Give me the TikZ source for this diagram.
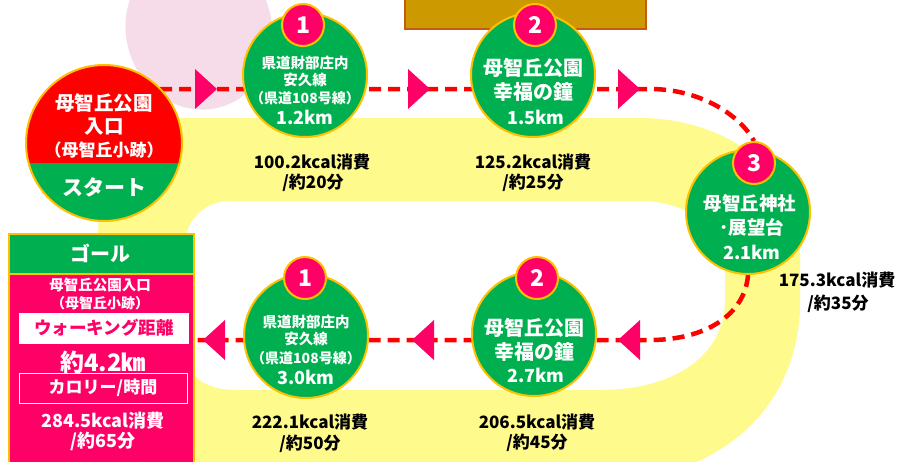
\documentclass[tikz,border=0pt]{standalone}
\usepackage{fontspec}
\setmainfont{Noto Sans CJK JP}
\usetikzlibrary{calc}
\definecolor{grn}{RGB}{0,176,80}
\definecolor{gold}{RGB}{255,192,0}
\definecolor{mag}{RGB}{255,0,102}
\definecolor{rte}{RGB}{255,0,0}
\definecolor{ylw}{RGB}{255,250,140}
\definecolor{pblob}{RGB}{246,220,233}
\definecolor{brn}{RGB}{204,153,0}
\definecolor{brnb}{RGB}{197,90,17}
\newcommand\fsz[1]{\fontsize{#1}{#1}\selectfont}
\pgfdeclarelayer{back}
\pgfdeclarelayer{mid}
\pgfsetlayers{back,mid,main}
\begin{document}
\begin{tikzpicture}[x=1pt,y=-1pt,
  stn/.style={circle, fill=grn, draw=gold, line width=2, minimum size=124, inner sep=0},
  badge/.style={circle, fill=mag, draw=gold, line width=2, minimum size=42, inner sep=0, text=white, font=\bfseries\fsz{23}},
  wt/.style={text=white, inner sep=0, font=\bfseries},
  bk/.style={text=black, inner sep=0, font=\bfseries},
  route/.style={draw=rte, line width=4.5, dash pattern=on 12 off 7},
  tri/.style={fill=mag}]
\useasboundingbox (0,0) rectangle (899,461);

% background layer: blob, ring, box
\begin{pgfonlayer}{back}
\fill[white] (0,0) rectangle (899,461);
\fill[pblob, rotate around={15:(199,30)}] (199,30) ellipse (73 and 80);
\fill[ylw, even odd rule]
 (185,118) -- (640,118) .. controls (720,118) and (800,165) .. (800,255) -- (800,310)
   .. controls (796,390) and (748,448) .. (670,472) -- (100,472) -- (98,235)
   .. controls (100,165) and (130,118) .. (185,118) -- cycle
 (230,201) -- (640,201) .. controls (690,201) and (725,230) .. (725,275) -- (725,300)
   .. controls (725,355) and (675,390) .. (600,390) -- (235,390)
   .. controls (205,390) and (185,375) .. (185,350) -- (185,245)
   .. controls (185,220) and (205,201) .. (230,201) -- cycle;
\fill[brn] (405,-3) rectangle (646,29);
\draw[brnb, line width=1.5] (405,-3) rectangle (646,29);
\end{pgfonlayer}

% start circle
\begin{scope}
\clip (104,143) circle (78);
\fill[rte] (20,60) rectangle (190,163);
\fill[grn] (20,163) rectangle (190,230);
\end{scope}
\node[circle, draw=gold, line width=2, minimum size=156, inner sep=0] (start) at (104,143) {};
\node[wt, font=\bfseries\fsz{19.5}] (s1) at (104,103) {母智丘公園};
\node[wt, font=\bfseries\fsz{19.5}] (s2) at (104,127) {入口};
\node[wt, font=\bfseries\fsz{17}] (s3) at (104,150) {（母智丘小跡）};
\node[wt, font=\bfseries\fsz{21}] (s4) at (104,187) {スタート};

% goal box
\node[draw=gold, line width=1.5, fill=grn, minimum width=185, minimum height=40, inner sep=0, anchor=north west] (goalh) at (8,233) {};
\node[draw=gold, line width=1.5, fill=mag, minimum width=185, minimum height=200, inner sep=0, anchor=north west] (goal) at (8,273) {};
\node[fill=white, minimum width=170, minimum height=31, inner sep=0, anchor=north west] (wbox) at (19,313) {};
\node[draw=white, line width=1, minimum width=168, minimum height=30, inner sep=0, anchor=north west] (obox) at (19,373) {};
\node[wt, font=\bfseries\fsz{20}] (g0) at (100,253) {ゴール};
\node[wt, font=\bfseries\fsz{14.5}] (g1) at (100,285) {母智丘公園入口};
\node[wt, font=\bfseries\fsz{14}] (g2) at (100,303) {（母智丘小跡）};
\node[text=mag, inner sep=0, font=\bfseries\fsz{17.5}] (g3) at (104,328) {ウォーキング距離};
\node[wt, font=\bfseries\fsz{24}] (g4) at (103,362) {約4.2㎞};
\node[wt, font=\bfseries\fsz{17}] (g5) at (103,388) {カロリー/時間};
\node[wt, font=\bfseries\fsz{18}] (g6) at (103,421) {284.5kcal消費};
\node[wt, font=\bfseries\fsz{18}] (g7) at (103,441) {/約65分};

% stations
\node[stn] (c1) at (305,75) {};
\node[badge] (b1) at (303,25) {1};
\node[stn] (c2) at (533,75) {};
\node[badge] (b2) at (535,25) {2};
\node[stn] (c3) at (748,212) {};
\node[badge] (b3) at (754,163) {3};
\node[stn] (d1) at (306,336) {};
\node[badge] (e1) at (305,278) {1};
\node[stn] (d2) at (534,334) {};
\node[badge] (e2) at (537,278) {2};

% route
\coordinate (r0) at (160,89);
\coordinate (r1) at (650,89);
\coordinate (r2) at (650,340);
\begin{pgfonlayer}{mid}
\draw[route] (r0) -- (r1) .. controls (700,89) and (740,115) .. (b3.north);
\draw[route] (c3.south) .. controls (745,315) and (705,340) .. (r2) -- (r2 -| goal.east);
\fill[tri] (217,89) -- (195,69) -- (195,109) -- cycle;
\fill[tri] (430,89) -- (408,69) -- (408,109) -- cycle;
\fill[tri] (640,89) -- (618,69) -- (618,109) -- cycle;
\fill[tri] (618,340) -- (640,320) -- (640,360) -- cycle;
\fill[tri] (412,340) -- (434,320) -- (434,360) -- cycle;
\fill[tri] (203,340) -- (225,320) -- (225,360) -- cycle;
\end{pgfonlayer}

% station texts
\node[wt, font=\bfseries\fsz{14.5}] (t11) at (305,63) {県道財部庄内};
\node[wt, font=\bfseries\fsz{14.5}] (t12) at (305,80) {安久線};
\node[wt, font=\bfseries\fsz{14}] (t13) at (305,98) {（県道108号線）};
\node[wt, font=\bfseries\fsz{18}] (t14) at (305,117) {1.2km};
\node[wt, font=\bfseries\fsz{20}] (t21) at (533,68) {母智丘公園};
\node[wt, font=\bfseries\fsz{20}] (t22) at (533,92) {幸福の鐘};
\node[wt, font=\bfseries\fsz{18}] (t23) at (536,117) {1.5km};
\node[wt, font=\bfseries\fsz{18.5}] (t31) at (750,203) {母智丘神社};
\node[wt, font=\bfseries\fsz{18.5}] (t32) at (752,227) {･展望台};
\node[wt, font=\bfseries\fsz{18}] (t33) at (752,252) {2.1km};
\node[wt, font=\bfseries\fsz{14.5}] (u11) at (306,322) {県道財部庄内};
\node[wt, font=\bfseries\fsz{14.5}] (u12) at (306,339) {安久線};
\node[wt, font=\bfseries\fsz{14}] (u13) at (306,358) {（県道108号線）};
\node[wt, font=\bfseries\fsz{18}] (u14) at (306,377) {3.0km};
\node[wt, font=\bfseries\fsz{20}] (u21) at (534,328) {母智丘公園};
\node[wt, font=\bfseries\fsz{20}] (u22) at (534,352) {幸福の鐘};
\node[wt, font=\bfseries\fsz{18}] (u23) at (536,375) {2.7km};

% labels
\node[bk, font=\bfseries\fsz{17}] (l1a) at (312,162) {100.2kcal消費};
\node[bk, font=\bfseries\fsz{17}] (l1b) at (313,183) {/約20分};
\node[bk, font=\bfseries\fsz{17}] (l2a) at (533,162) {125.2kcal消費};
\node[bk, font=\bfseries\fsz{17}] (l2b) at (533,183) {/約25分};
\node[bk, font=\bfseries\fsz{17}] (l3a) at (837,280) {175.3kcal消費};
\node[bk, font=\bfseries\fsz{17}] (l3b) at (838,304) {/約35分};
\node[bk, font=\bfseries\fsz{17}] (l4a) at (310,422) {222.1kcal消費};
\node[bk, font=\bfseries\fsz{17}] (l4b) at (310,444) {/約50分};
\node[bk, font=\bfseries\fsz{17}] (l5a) at (537,422) {206.5kcal消費};
\node[bk, font=\bfseries\fsz{17}] (l5b) at (537,443) {/約45分};
\end{tikzpicture}
\end{document}
